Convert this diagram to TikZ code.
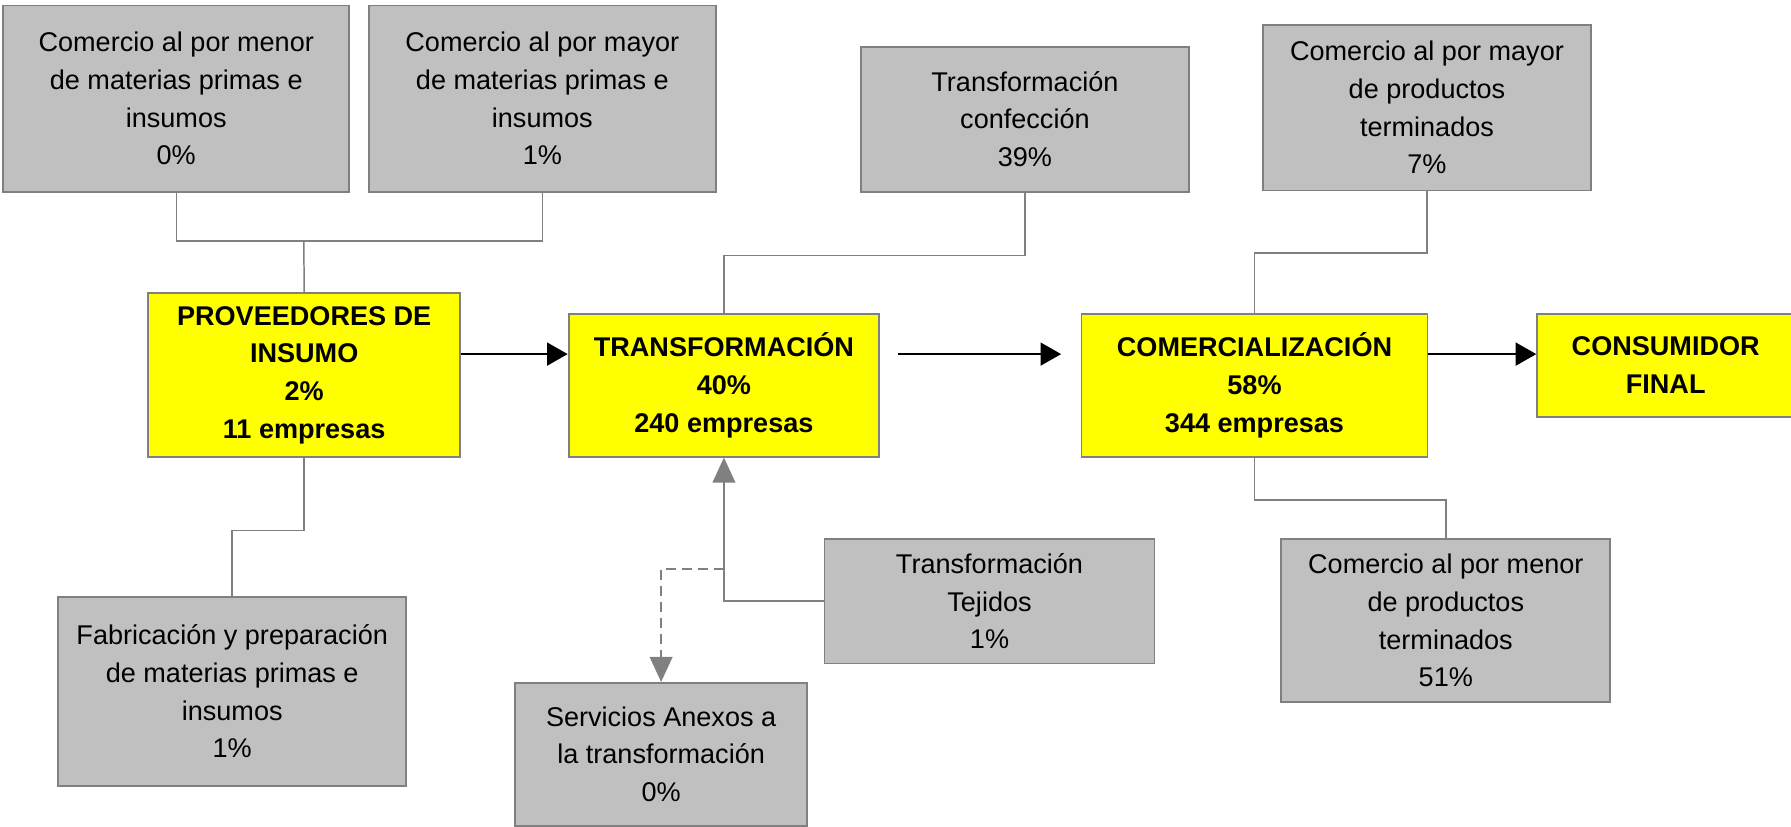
\documentclass[tikz,border=0pt]{standalone}
\usepackage{fontspec}
\setmainfont{Liberation Sans}
\usepackage{xcolor}
\usetikzlibrary{arrows.meta}

\definecolor{boxgray}{HTML}{C0C0C0}
\definecolor{linegray}{HTML}{808080}
\definecolor{boxyellow}{HTML}{FFFF00}

\begin{document}
\begin{tikzpicture}[
    x=1pt, y=-1pt,
    gbox/.style={rectangle, draw=linegray, fill=boxgray, line width=1.6pt, anchor=north west, align=center, inner sep=2pt, font=\fontsize{23.7}{33}\selectfont},
    ybox/.style={gbox, fill=boxyellow, font=\fontsize{23.7}{33}\selectfont\bfseries},
    link/.style={draw=linegray, line width=1.3pt},
    garr/.style={link, -{Triangle[length=22pt, width=20pt]}},
    arr/.style={-{Triangle[length=18pt, width=20pt]}, line width=1.8pt, color=black}
]
\useasboundingbox (0,0) rectangle (1568,724);

\node[gbox, minimum width=303pt, minimum height=163pt] (menormp) at (2,4) {Comercio al por menor\\de materias primas e\\insumos\\0\%};
\node[gbox, minimum width=304pt, minimum height=163pt] (mayormp) at (322,4) {Comercio al por mayor\\de materias primas e\\insumos\\1\%};
\node[gbox, minimum width=287pt, minimum height=127pt] (confec) at (753,40) {Transformación\\confección\\39\%};
\node[gbox, minimum width=287pt, minimum height=145pt] (mayorpt) at (1105,21) {Comercio al por mayor\\de productos\\terminados\\7\%};
\node[ybox, minimum width=273pt, minimum height=143pt] (prov) at (129,256) {PROVEEDORES DE\\INSUMO\\2\%\\11 empresas};
\node[ybox, minimum width=272pt, minimum height=125pt] (trans) at (497,274) {TRANSFORMACIÓN\\40\%\\240 empresas};
\node[ybox, minimum width=303pt, minimum height=125pt] (comer) at (946,274) {COMERCIALIZACIÓN\\58\%\\344 empresas};
\node[ybox, minimum width=225pt, minimum height=90pt] (cons) at (1345,274) {CONSUMIDOR\\FINAL};
\node[gbox, minimum width=305pt, minimum height=165pt] (fabmp) at (50,522) {Fabricación y preparación\\de materias primas e\\insumos\\1\%};
\node[gbox, minimum width=289pt, minimum height=109pt] (tejidos) at (721,471) {Transformación\\Tejidos\\1\%};
\node[gbox, minimum width=256pt, minimum height=125pt] (servicios) at (450,597) {Servicios Anexos a\\la transformación\\0\%};
\node[gbox, minimum width=288pt, minimum height=143pt] (menorpt) at (1121,471) {Comercio al por menor\\de productos\\terminados\\51\%};

\coordinate (bus) at (266,211);
\coordinate (axis) at (0,310);
\coordinate (forky) at (0,498);

\draw[link] (menormp.south) |- (bus) -| (mayormp.south);
\draw[link] (bus) -- (prov.north);
\draw[link] (prov.south) -- ++(0,64) -| (fabmp.north);
\draw[link] (confec.south) -- ++(0,55) -| (trans.north);
\draw[garr] (tejidos.west) -| (trans.south);
\draw[garr, dash pattern=on 9pt off 5pt] (trans.south |- forky) -| (servicios.north);
\draw[link] (mayorpt.south) -- ++(0,54) -| (comer.north);
\draw[link] (comer.south) -- ++(0,37) -| (menorpt.north);
\draw[arr] (prov.east |- axis) -- (trans.west |- axis);
\draw[arr, shorten <=16pt, shorten >=17pt] (trans.east |- axis) -- (comer.west |- axis);
\draw[arr] (comer.east |- axis) -- (cons.west |- axis);

\end{tikzpicture}
\end{document}
